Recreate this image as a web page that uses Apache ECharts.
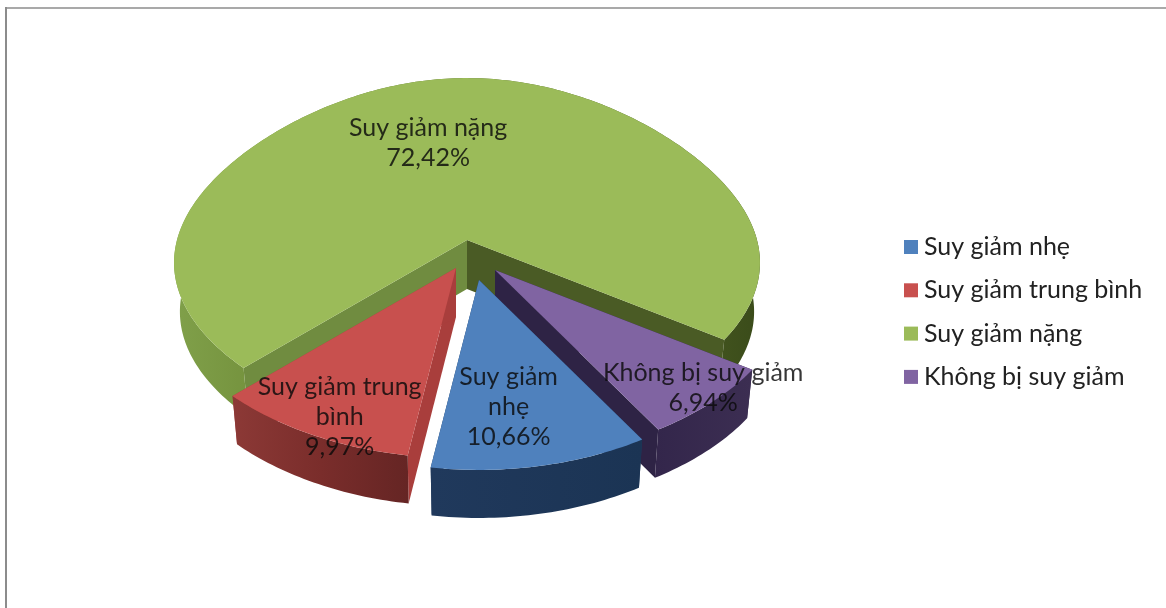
<!DOCTYPE html>
<html>
<head>
<meta charset="utf-8">
<style>html,body{margin:0;padding:0;background:#fff}#chart{width:1166px;height:608px}</style>
<script src="https://cdn.jsdelivr.net/npm/echarts@6/dist/echarts.min.js"></script>
</head>
<body>
<div id="chart"></div>
<script>
// Values
const categories = ['Suy giảm nhẹ', 'Suy giảm trung bình', 'Suy giảm nặng', 'Không bị suy giảm'];
const shares = [10.66, 9.97, 72.42, 6.94];
const labelLines = [['Suy giảm', 'nhẹ'], ['Suy giảm trung', 'bình'], ['Suy giảm nặng'], ['Không bị suy giảm']];

// Face colours per slice
const topColors = ['#4F81BD', '#C8504E', '#9BBB59', '#8064A2'];
const rimStops = [
  [[0, '#20395c'], [1, '#1b3454']],
  [[0, '#8c3936'], [0.5, '#7a2d2b'], [1, '#652524']],
  [[0, '#80a04a'], [0.12, '#76943f'], [0.5, '#5a702c'], [0.9, '#44561f'], [1, '#3a4b1a']],
  [[0, '#33264b'], [1, '#3c2e52']]
];
const cutStartColors = ['#1f3a5f', '#a93e3c', '#708c40', '#2e2345'];
const cutEndColors = ['#1f3a5f', '#a93e3c', '#4a5b25', '#2e2345'];

// Pie layout: apex of the uncut disk, slice displacements, depth and starting angle
const apex = [467, 240];
const sliceShift = [[12, 40], [-11, 28], [0, 0], [28, 30]];
const labelPlace = [[0.67, -12, 2], [0.89, 13, 1], [0.6, -25, 0], [0.9, 13, -1]];
const startAngle = 150;
const depth = 49;
const drawOrder = [2, 3, 0, 1];
const FAMILY = 'Lato, "Noto Sans", sans-serif';
const FONT_SIZE = 25;

const total = shares.reduce((a, b) => a + b, 0);
const rad = Math.PI / 180;

// Rim of the tilted disk, seen with mild perspective (near edge is enlarged)
function rimOffset(deg) {
  const s = Math.sin(deg * rad), c = -Math.cos(deg * rad);
  return [s * (290 + 42 * c), c * (161 + 14 * c + 14.9 * c * c)];
}
// The lower face sits below the upper one and shrinks slightly
function lower(off) {
  return [off[0] * 0.98, off[1] * 0.995 + depth];
}

function sliceElements(i) {
  let from = startAngle;
  for (let k = 0; k < i; k++) from += shares[k] / total * 360;
  const to = from + shares[i] / total * 360;
  const tip = [apex[0] + sliceShift[i][0], apex[1] + sliceShift[i][1]];
  const at = off => [tip[0] + off[0], tip[1] + off[1]];

  const arc = [];
  const steps = Math.max(8, Math.round(to - from));
  for (let n = 0; n <= steps; n++) arc.push(rimOffset(from + (to - from) * n / steps));

  const topArc = arc.map(at);
  const lowArc = arc.map(o => at(lower(o)));
  const tipLow = at(lower([0, 0]));

  const poly = (points, fill) => ({
    type: 'polygon',
    shape: { points },
    style: { fill, stroke: null }
  });

  const outer = poly(topArc.concat(lowArc.slice().reverse()),
    new echarts.graphic.LinearGradient(0, 0, 1, 0,
      rimStops[i].map(s => ({ offset: s[0], color: s[1] }))));
  const cutEnd = poly([tip, tipLow, lowArc[lowArc.length - 1], topArc[topArc.length - 1]], cutEndColors[i]);
  const cutStart = poly([tip, tipLow, lowArc[0], topArc[0]], cutStartColors[i]);
  const top = poly([tip].concat(topArc), topColors[i]);

  const mid = (from + to) / 2;
  const m = rimOffset(mid);
  const place = labelPlace[i];
  const text = labelLines[i].concat(shares[i].toFixed(2).replace('.', ',') + '%').join('\n');
  const label = {
    type: 'text',
    z2: 100,
    style: {
      text,
      x: tip[0] + m[0] * place[0] + place[1],
      y: tip[1] + m[1] * place[0] + place[2],
      align: 'center',
      verticalAlign: 'middle',
      fontFamily: FAMILY,
      fontSize: FONT_SIZE,
      lineHeight: 30,
      fill: 'rgba(10,10,10,0.82)'
    }
  };
  return [cutStart, cutEnd, outer, top, label];
}

const series = drawOrder.map((i, pos) => ({
  type: 'custom',
  name: categories[i],
  coordinateSystem: 'none',
  z: 2 + pos,
  silent: true,
  animation: false,
  itemStyle: { color: topColors[i] },
  data: [shares[i]],
  renderItem: () => ({ type: 'group', children: sliceElements(i) })
}));

const chart = echarts.init(document.getElementById('chart'), null, { renderer: 'canvas' });
chart.setOption({
  backgroundColor: '#fff',
  animation: false,
  legend: {
    data: categories,
    orient: 'vertical',
    left: 899,
    top: 228,
    icon: 'rect',
    itemWidth: 14,
    itemHeight: 14,
    itemGap: 15.3,
    selectedMode: false,
    textStyle: { fontFamily: FAMILY, fontSize: FONT_SIZE, color: '#222', lineHeight: 28, padding: [0, 0, 0, 1] }
  },
  graphic: [
    { type: 'line', shape: { x1: 6, y1: 7, x2: 6, y2: 608 }, style: { stroke: '#8c8c8c', lineWidth: 2 } },
    { type: 'line', shape: { x1: 6, y1: 8, x2: 1166, y2: 8 }, style: { stroke: '#8c8c8c', lineWidth: 1.5 } }
  ],
  series
});
</script>
</body>
</html>
